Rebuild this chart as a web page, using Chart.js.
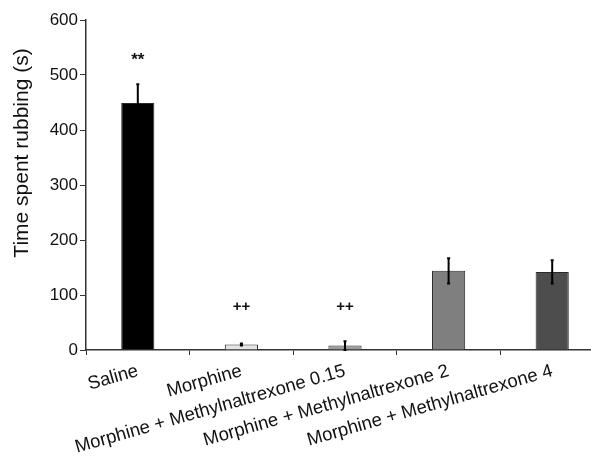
<!DOCTYPE html>
<html>
<head>
<meta charset="utf-8">
<script src="https://cdn.jsdelivr.net/npm/chart.js@4"></script>
<style>
  html, body { margin: 0; padding: 0; background: #fff; overflow: hidden; width: 591px; height: 457px; }
  #c { display: block; }
</style>
</head>
<body>
<canvas id="c" width="620" height="457"></canvas>
<script>
const categories = ["Saline", "Morphine", "Morphine + Methylnaltrexone 0.15", "Morphine + Methylnaltrexone 2", "Morphine + Methylnaltrexone 4"];
const values = [449, 10, 8, 144, 142];
const errors = [34, 2, 8, 23, 21];
const sigMarks = ["**", "++", "++", "", ""];
const sigMarkValues = [536, 78, 78, null, null];
const yTicks = [0, 100, 200, 300, 400, 500, 600];
const yTitle = "Time spent rubbing (s)";

const barColors = ["#000000", "#e4e4e4", "#9c9c9c", "#7f7f7f", "#4d4d4d"];
const FONT = "'Liberation Sans', Arial, Helvetica, sans-serif";

const extrasPlugin = {
  id: 'extras',
  afterDatasetsDraw(chart) {
    const ctx = chart.ctx;
    const y = chart.scales.y;
    const meta = chart.getDatasetMeta(0);
    ctx.save();
    meta.data.forEach((bar, i) => {
      const v = values[i], e = errors[i];
      const top = y.getPixelForValue(v + e);
      const bot = y.getPixelForValue(Math.max(v - e, 0));
      ctx.strokeStyle = '#000';
      ctx.lineWidth = 2;
      ctx.beginPath();
      ctx.moveTo(bar.x, top);
      ctx.lineTo(bar.x, bot);
      ctx.stroke();
      ctx.beginPath();
      ctx.moveTo(bar.x - 1.5, top);
      ctx.lineTo(bar.x + 1.5, top);
      ctx.moveTo(bar.x - 1.5, bot);
      ctx.lineTo(bar.x + 1.5, bot);
      ctx.stroke();
      if (sigMarks[i] && sigMarkValues[i] != null) {
        const ty = y.getPixelForValue(sigMarkValues[i]);
        ctx.fillStyle = '#111';
        ctx.textAlign = 'center';
        ctx.textBaseline = 'middle';
        if (sigMarks[i].indexOf('*') >= 0) {
          ctx.font = 'bold 17px ' + FONT;
          ctx.fillText(sigMarks[i], bar.x, ty + 5);
        } else {
          ctx.font = 'bold 15px ' + FONT;
          ctx.fillText(sigMarks[i], bar.x, ty);
        }
      }
    });
    // y-axis title
    ctx.translate(22, 153);
    ctx.rotate(-Math.PI / 2);
    ctx.fillStyle = '#111';
    ctx.font = '21px ' + FONT;
    ctx.textAlign = 'center';
    ctx.textBaseline = 'middle';
    ctx.fillText(yTitle, 0, 0);
    ctx.restore();
  }
};

new Chart(document.getElementById('c'), {
  type: 'bar',
  data: {
    labels: categories,
    datasets: [{
      data: values,
      backgroundColor: barColors,
      borderColor: '#2a2a2a',
      borderWidth: 1,
      barPercentage: 0.32,
      categoryPercentage: 1.0
    }]
  },
  options: {
    responsive: false,
    devicePixelRatio: 1,
    animation: false,
    layout: { padding: { left: 0, top: 20, right: 16, bottom: 0 } },
    plugins: { legend: { display: false }, tooltip: { enabled: false } },
    scales: {
      x: {
        grid: { drawOnChartArea: false, drawTicks: true, tickLength: 5, color: '#333', offset: true },
        border: { color: '#333', width: 1.5 },
        ticks: {
          autoSkip: false,
          minRotation: 16,
          maxRotation: 16,
          padding: 5,
          color: '#111',
          font: { family: FONT, size: 18.5 }
        },
        afterFit(scale) { scale.height = 107; }
      },
      y: {
        min: 0,
        max: 600,
        afterBuildTicks(scale) { scale.ticks = yTicks.map(v => ({ value: v })); },
        grid: { drawOnChartArea: false, drawTicks: true, tickLength: 6, color: '#333' },
        border: { color: '#333', width: 1.5 },
        ticks: {
          padding: 2,
          color: '#111',
          font: { family: FONT, size: 17 }
        },
        afterFit(scale) { scale.width = 86; }
      }
    }
  },
  plugins: [extrasPlugin]
});
</script>
</body>
</html>
